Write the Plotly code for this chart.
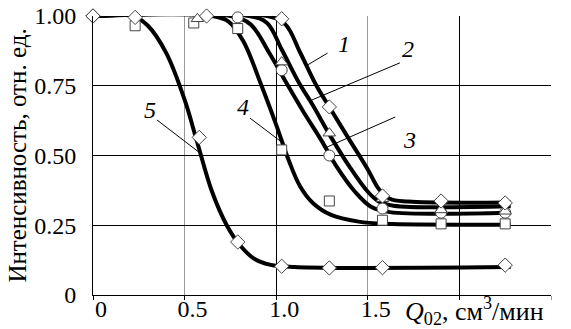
import plotly.graph_objects as go

# Oxygen flow rate, cm^3/min, and relative intensity for five series.
# Smooth trend curves (knots) and measured points (markers) per series.
c1_x = [0, 0.95, 1.05, 1.13, 1.22, 1.29, 1.40, 1.50, 1.56, 1.62, 1.72, 2.28]
c1_y = [1, 1, 0.97, 0.87, 0.75, 0.674, 0.556, 0.45, 0.38, 0.345, 0.335, 0.332]
c2_x = [0, 0.85, 0.95, 1.03, 1.125, 1.20, 1.30, 1.40, 1.50, 1.56, 1.64, 2.28]
c2_y = [1, 1, 0.975, 0.88, 0.76, 0.68, 0.565, 0.46, 0.37, 0.335, 0.32, 0.318]
c3_x = [0, 0.75, 0.86, 0.96, 1.06, 1.15, 1.245, 1.33, 1.43, 1.52, 1.62, 2.28]
c3_y = [1, 1, 0.97, 0.87, 0.755, 0.655, 0.556, 0.46, 0.37, 0.315, 0.297, 0.295]
c4_x = [0, 0.65, 0.74, 0.82, 0.92, 1.0, 1.07, 1.13, 1.20, 1.30, 1.45, 1.6, 2.28]
c4_y = [1, 1, 0.98, 0.91, 0.75, 0.61, 0.48, 0.39, 0.33, 0.287, 0.263, 0.255, 0.252]
c5_x = [0, 0.22, 0.30, 0.40, 0.50, 0.57, 0.65, 0.73, 0.80, 0.88, 0.97, 1.1, 1.4, 2.28]
c5_y = [1, 1, 0.965, 0.867, 0.70, 0.545, 0.37, 0.25, 0.18, 0.13, 0.108, 0.10, 0.097, 0.10]

m1_x = [0, 0.62, 1.03, 1.29, 1.58, 1.90, 2.25]
m1_y = [1.0, 1.0, 0.99, 0.674, 0.355, 0.337, 0.33]
m2_x = [0.57, 1.03, 1.29, 1.58, 1.90, 2.25]
m2_y = [0.99, 0.835, 0.58, 0.345, 0.305, 0.30]
m3_x = [0.79, 1.03, 1.29, 1.58, 1.90, 2.25]
m3_y = [0.995, 0.806, 0.50, 0.31, 0.295, 0.295]
m4_x = [0.23, 0.55, 0.79, 1.03, 1.29, 1.58, 1.90, 2.25]
m4_y = [0.965, 0.975, 0.955, 0.52, 0.337, 0.268, 0.255, 0.255]
m5_x = [0, 0.23, 0.58, 0.79, 1.03, 1.29, 1.58, 2.25]
m5_y = [1.0, 0.995, 0.565, 0.19, 0.103, 0.097, 0.098, 0.107]

x_ticks = [0, 0.5, 1.0, 1.5]
x_ticktext = ["0", "0.5", "1.0", "1.5"]
y_ticks = [0, 0.25, 0.5, 0.75, 1.0]
y_ticktext = ["0", "0.25", "0.50", "0.75", "1.00"]

# curve labels: (text, label x, label y, leader end x, leader end y, leader start x, leader start y)
labels = [
    ("1", 1.37, 0.90, 1.17, 0.824, 1.28, 0.867),
    ("2", 1.72, 0.88, 1.195, 0.699, 1.675, 0.832),
    ("3", 1.73, 0.555, 1.277, 0.53, 1.65, 0.638),
    ("4", 0.82, 0.674, 1.03, 0.548, 0.857, 0.634),
    ("5", 0.31, 0.663, 0.584, 0.509, 0.35, 0.627),
]

FONT = "Liberation Serif, Times New Roman, Times, serif"
fig = go.Figure()

for cx, cy in [(c1_x, c1_y), (c2_x, c2_y), (c3_x, c3_y), (c4_x, c4_y), (c5_x, c5_y)]:
    fig.add_trace(go.Scatter(x=cx, y=cy, mode="lines",
                             line=dict(color="black", width=4, shape="spline", smoothing=1.0),
                             cliponaxis=False, showlegend=False, hoverinfo="skip"))

mk_line = dict(color="#444", width=1)
for mx, my, sym, size in [(m4_x, m4_y, "square", 10), (m3_x, m3_y, "circle", 11),
                          (m2_x, m2_y, "triangle-up", 11), (m1_x, m1_y, "diamond", 11),
                          (m5_x, m5_y, "diamond", 11)]:
    fig.add_trace(go.Scatter(x=mx, y=my, mode="markers",
                             marker=dict(symbol=sym, size=size, color="white", line=mk_line),
                             cliponaxis=False, showlegend=False))

for text, lx, ly, ex, ey, sx, sy in labels:
    fig.add_annotation(x=lx, y=ly, text=f"<i>{text}</i>", showarrow=False,
                       font=dict(family=FONT, size=24, color="black"))
    fig.add_shape(type="line", x0=sx, y0=sy, x1=ex, y1=ey, xref="x", yref="y",
                  line=dict(color="black", width=1))

fig.add_annotation(x=1.69, y=0, xref="x", yref="paper", xanchor="left", yanchor="top",
                   yshift=4, showarrow=False,
                   text="<i>Q</i><sub>02</sub>, см<sup>3</sup>/мин",
                   font=dict(family=FONT, size=26, color="black"))

fig.update_layout(
    width=571, height=329,
    margin=dict(l=93, r=20, t=16, b=34),
    paper_bgcolor="white", plot_bgcolor="white",
    font=dict(family=FONT, size=24, color="black"),
    xaxis=dict(range=[0, 2.5], tickvals=x_ticks, ticktext=x_ticktext,
               tickfont=dict(family=FONT, size=24),
               showgrid=False, showline=True, linecolor="black", linewidth=1,
               ticks="outside", ticklen=4, tickcolor="black", ticklabelshift=8,
               ticklabelstandoff=-12,
               minor=dict(tickvals=[0.5, 1.5, 2.5], showgrid=True, gridcolor="#999",
                          gridwidth=1, ticks="outside", ticklen=4, tickcolor="#999"),
               zeroline=False, fixedrange=True, automargin=False),
    xaxis2=dict(range=[0, 2.5], overlaying="x", matches="x", tickvals=[1.0, 2.0],
                showticklabels=False, showgrid=True, gridcolor="black", gridwidth=1,
                ticks="outside", ticklen=4, tickcolor="black", zeroline=False,
                automargin=False),
    yaxis=dict(range=[0, 1.0], tickvals=y_ticks, ticktext=y_ticktext,
               tickfont=dict(family=FONT, size=24),
               showgrid=True, gridcolor="black", gridwidth=1,
               showline=True, linecolor="black", linewidth=1,
               ticks="", ticklabelstandoff=11, zeroline=False, automargin=False,
               title=dict(text="Интенсивность, отн. ед.", standoff=0,
                          font=dict(family=FONT, size=25, color="black"))),
)
# attach an empty trace so the overlay axis is drawn
fig.add_trace(go.Scatter(x=[None], y=[None], xaxis="x2", yaxis="y", showlegend=False))

fig.write_html("out.html")
